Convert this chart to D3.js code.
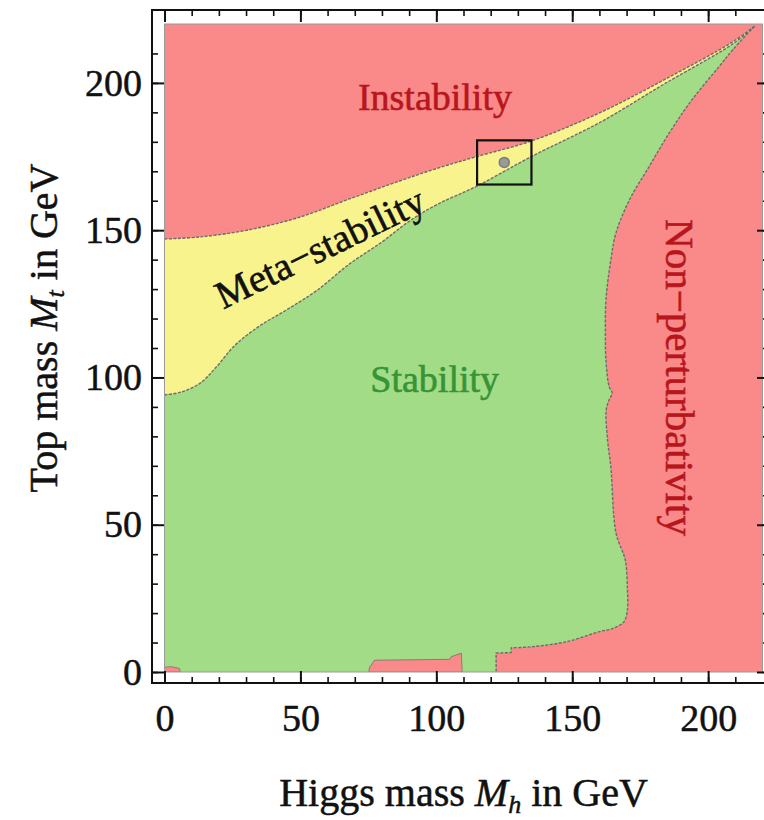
<!DOCTYPE html>
<html>
<head>
<meta charset="utf-8">
<script src="https://cdn.jsdelivr.net/npm/d3@7"></script>
<style>
  body { margin: 0; background: #fff; }
  svg text { font-family: "Liberation Serif", "Times New Roman", serif; }
</style>
</head>
<body>
<div id="chart"></div>
<script>
// boundaries, Higgs mass Mh vs top mass Mt (GeV)
const instabilityMh = [0, 13, 31, 50, 68, 86.5, 100, 114.5, 135, 160, 184.5, 209, 217];
const instabilityMt = [147, 147.7, 150.1, 154.5, 160.6, 166.7, 170.9, 174.9, 180.3, 189.8, 201.4, 213.9, 219.2];

const stabilityMh = [0, 6, 13, 19, 26, 35, 45, 56, 68, 80, 90, 100, 115, 135, 160, 184.5, 209, 217];
const stabilityMt = [94.1, 95, 98, 103.5, 111, 117.5, 123, 129.5, 138.5, 146, 153, 158.6, 165, 175, 186.5, 200, 213.2, 219.2];

const perturbativityMh = [217, 209, 204, 194, 185.7, 178.3, 171, 166.1, 164.2, 162.4, 162.2, 162.4, 163.6, 164.7, 163.6, 162.5, 163, 164.2, 166.1, 169.5, 170.3, 170.3, 169, 165, 160, 148, 135.5, 127.6];
const perturbativityMt = [219.2, 211.2, 205.5, 194.2, 183, 171.6, 160.2, 149.1, 139.9, 126.3, 115.1, 105.9, 96.8, 94.7, 92.4, 89, 78.8, 69.6, 47.2, 38, 28, 21.1, 17, 14.8, 13.7, 10.3, 8.6, 8.2];
const tailMh = [127.6, 127.5, 122, 122];
const tailMt = [8.2, 6.6, 6.4, 0];

const lowStripMh = [75.2, 75.4, 77.3, 104.9, 105.5, 109.2, 109.5];
const lowStripMt = [0, 1.5, 4.0, 4.3, 5.2, 6.4, 0];
const cornerMh = [0, 0, 2.5, 5.5, 5.8];
const cornerMt = [0, 1.6, 1.8, 1.2, 0];

const measured = [125, 173];
const boxMh = [115, 135];
const boxMt = [165.5, 180.5];

const tickLabels = [0, 50, 100, 150, 200];
const minorTicks = d3.range(0, 220, 10);
const regionNames = ['Instability', 'Meta\u2212stability', 'Stability', 'Non\u2212perturbativity'];

const width = 764;
const height = 820;
const frame = { left: 152, top: 10, right: 769, bottom: 683 };
const pink = '#f98a89';
const green = '#a2dc86';
const yellow = '#f9f38d';
const red = '#b8161c';

const x = d3.scaleLinear().domain([0, 220]).range([164.5, 762.5]);
const y = d3.scaleLinear().domain([0, 220]).range([672, 24]);

const svg = d3.select('#chart').append('svg')
  .attr('width', width)
  .attr('height', height);

const zip = (a, b) => a.map((d, i) => [d, b[i]]);
const smooth = d3.line().x((d) => x(d[0])).y((d) => y(d[1])).curve(d3.curveCatmullRom.alpha(0.5));
const straight = d3.line().x((d) => x(d[0])).y((d) => y(d[1]));
const chain = (...parts) => parts.map((p, i) => (i ? p.replace(/^M/, 'L') : p)).join('');

const inst = zip(instabilityMh, instabilityMt);
const stab = zip(stabilityMh, stabilityMt);
const pert = zip(perturbativityMh, perturbativityMt);
const tail = zip(tailMh, tailMt);

svg.append('clipPath').attr('id', 'plot-clip')
  .append('rect')
  .attr('x', x(0)).attr('y', y(220))
  .attr('width', x(220) - x(0)).attr('height', y(0) - y(220));

const plot = svg.append('g').attr('clip-path', 'url(#plot-clip)');

plot.append('rect')
  .attr('x', x(0)).attr('y', y(220))
  .attr('width', x(220) - x(0)).attr('height', y(0) - y(220))
  .attr('fill', pink);

// meta-stability band
plot.append('path')
  .attr('d', chain(smooth(inst), smooth(stab.slice().reverse())) + 'Z')
  .attr('fill', yellow);

// stability region
plot.append('path')
  .attr('d', chain(smooth(stab), smooth(pert), straight(tail), `M${x(0)},${y(0)}`) + 'Z')
  .attr('fill', green);

plot.selectAll('.strip')
  .data([zip(lowStripMh, lowStripMt), zip(cornerMh, cornerMt)])
  .enter()
  .append('path')
  .attr('class', 'strip')
  .attr('d', (d) => straight(d) + 'Z')
  .attr('fill', pink)
  .attr('stroke', '#8a7a7a')
  .attr('stroke-width', 1);

const edges = [smooth(inst), smooth(stab), chain(smooth(pert), straight(tail))];
plot.selectAll('.edge')
  .data(edges)
  .enter()
  .append('path')
  .attr('class', 'edge')
  .attr('d', (d) => d)
  .attr('fill', 'none')
  .attr('stroke', '#6c6c6c')
  .attr('stroke-width', 1.4)
  .attr('stroke-dasharray', '3 1.5');

svg.append('rect')
  .attr('x', x(0)).attr('y', y(220))
  .attr('width', x(220) - x(0)).attr('height', y(0) - y(220))
  .attr('fill', 'none')
  .attr('stroke', '#9a9a9a')
  .attr('stroke-width', 1);

// region labels
const label = (text, color, size) => svg.append('text')
  .attr('text-anchor', 'middle')
  .attr('font-size', size)
  .attr('fill', color)
  .attr('stroke', color)
  .attr('stroke-width', 0.6)
  .text(text);

label(regionNames[0], red, 38)
  .attr('x', x(99.5)).attr('y', y(190.8));

label(regionNames[1], '#111', 39)
  .attr('transform', `translate(${x(59.3)},${y(140)}) rotate(-26)`);

label(regionNames[2], '#379436', 38)
  .attr('x', x(99.4)).attr('y', y(95));

label(regionNames[3], red, 41)
  .attr('transform', `translate(${x(184.6)},${y(100)}) rotate(90)`);

// measured point and its box
svg.append('rect')
  .attr('x', x(boxMh[0])).attr('y', y(boxMt[1]))
  .attr('width', x(boxMh[1]) - x(boxMh[0]))
  .attr('height', y(boxMt[0]) - y(boxMt[1]))
  .attr('fill', 'none')
  .attr('stroke', '#111')
  .attr('stroke-width', 2.2);

svg.append('circle')
  .attr('cx', x(measured[0])).attr('cy', y(measured[1]))
  .attr('r', 5)
  .attr('fill', '#9a9a9a')
  .attr('stroke', '#7c7c7c')
  .attr('stroke-width', 1.5);

// frame with inward ticks
svg.append('rect')
  .attr('x', frame.left).attr('y', frame.top)
  .attr('width', frame.right - frame.left)
  .attr('height', frame.bottom - frame.top)
  .attr('fill', 'none')
  .attr('stroke', '#111')
  .attr('stroke-width', 2);

const sides = [
  [d3.axisBottom(x), `translate(0,${frame.bottom})`, true, 21],
  [d3.axisTop(x), `translate(0,${frame.top})`, false, 10],
  [d3.axisLeft(y), `translate(${frame.left},0)`, true, 10],
  [d3.axisRight(y), `translate(${frame.right},0)`, false, 10],
];

sides.forEach(([axis, transform, labelled, pad]) => {
  svg.append('g')
    .attr('transform', transform)
    .call(axis.tickValues(minorTicks).tickSize(-6).tickFormat(''))
    .call((g) => g.select('.domain').remove())
    .call((g) => g.selectAll('line').attr('stroke', '#111').attr('stroke-width', 1.6));

  svg.append('g')
    .attr('transform', transform)
    .call(axis.tickValues(tickLabels).tickSize(-12)
      .tickPadding(pad)
      .tickFormat(labelled ? d3.format('d') : ''))
    .call((g) => g.select('.domain').remove())
    .call((g) => g.selectAll('line').attr('stroke', '#111').attr('stroke-width', 2))
    .call((g) => g.selectAll('text')
      .attr('font-family', '"Liberation Serif", "Times New Roman", serif')
      .attr('font-size', 38)
      .attr('fill', '#111')
      .attr('stroke', '#111')
      .attr('stroke-width', 0.5));
});

// axis titles
const title = (transform) => svg.append('text')
  .attr('transform', transform)
  .attr('text-anchor', 'middle')
  .attr('font-size', 40)
  .attr('fill', '#111')
  .attr('stroke', '#111')
  .attr('stroke-width', 0.5);

const xTitle = title(`translate(${(x(0) + x(220)) / 2},806)`);
xTitle.append('tspan').text('Higgs mass ');
xTitle.append('tspan').attr('font-style', 'italic').text('M');
xTitle.append('tspan').attr('font-style', 'italic').attr('font-size', 26).attr('dy', 7).text('h');
xTitle.append('tspan').attr('dy', -7).text(' in GeV');

const yTitle = title('translate(57,328) rotate(-90)');
yTitle.append('tspan').text('Top mass ');
yTitle.append('tspan').attr('font-style', 'italic').text('M');
yTitle.append('tspan').attr('font-style', 'italic').attr('font-size', 26).attr('dy', 7).text('t');
yTitle.append('tspan').attr('dy', -7).text(' in GeV');
</script>
</body>
</html>
